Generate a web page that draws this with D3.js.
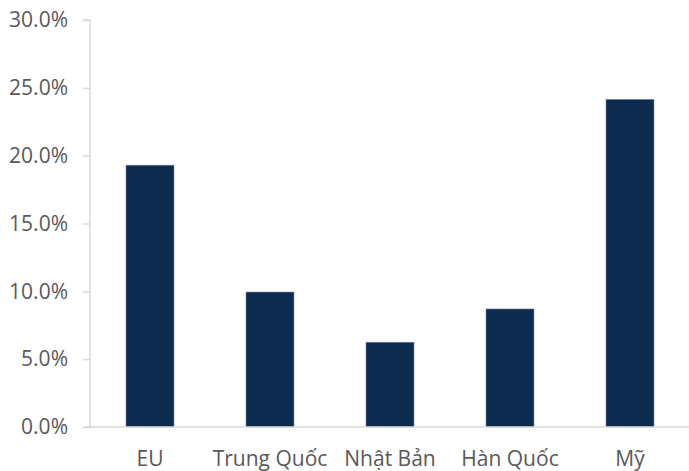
<!DOCTYPE html>
<html>
<head>
<meta charset="utf-8">
<script src="https://cdn.jsdelivr.net/npm/d3@7"></script>
<style>
  body { margin: 0; background: #fff; }
  svg text { font-family: "Open Sans", sans-serif; fill: #595959; }
</style>
</head>
<body>
<svg id="chart" width="689" height="471"></svg>
<script>
// data
const categories = ['EU', 'Trung Quốc', 'Nhật Bản', 'Hàn Quốc', 'Mỹ'];
const shares = [19.3, 9.95, 6.25, 8.7, 24.15];
const yTicks = [0, 5, 10, 15, 20, 25, 30];

const svg = d3.select('#chart');
const margin = { top: 20, right: 0, bottom: 44, left: 90 };
const width = 689, height = 471;

const x = d3.scaleBand()
    .domain(categories)
    .range([margin.left, 690])
    .paddingInner(0.6)
    .paddingOuter(0.3);

const y = d3.scaleLinear()
    .domain([0, 30])
    .range([height - margin.bottom, margin.top]);

// y axis
const yAxis = svg.append('g')
    .attr('transform', `translate(${margin.left},0)`)
    .call(d3.axisLeft(y).tickValues(yTicks).tickSize(7).tickPadding(15)
        .tickFormat(d => d.toFixed(1) + '%'));
yAxis.selectAll('line, path').attr('stroke', '#d9d9d9').attr('stroke-width', 1.5);
yAxis.select('.domain').attr('d', `M-7,${y(30)}H0V${y(0)}`);
yAxis.selectAll('text').style('font-size', '21px').attr('fill', '#595959');

// bars
svg.selectAll('rect.bar')
    .data(shares)
    .enter()
    .append('rect')
    .attr('class', 'bar')
    .attr('x', (d, i) => x(categories[i]))
    .attr('y', d => y(d))
    .attr('width', x.bandwidth())
    .attr('height', d => y(0) - y(d))
    .attr('fill', '#0d2b4e')
    .attr('stroke', '#7a8ca3')
    .attr('stroke-width', 0.6);

// x axis
const xAxis = svg.append('g')
    .attr('transform', `translate(0,${y(0)})`)
    .call(d3.axisBottom(x).tickSize(0).tickPadding(24));
xAxis.select('.domain').attr('stroke', '#d9d9d9').attr('stroke-width', 1.5)
    .attr('d', `M${margin.left - 7},0H${width}`);
xAxis.selectAll('text').style('font-size', '21px').attr('fill', '#595959');
</script>
</body>
</html>
